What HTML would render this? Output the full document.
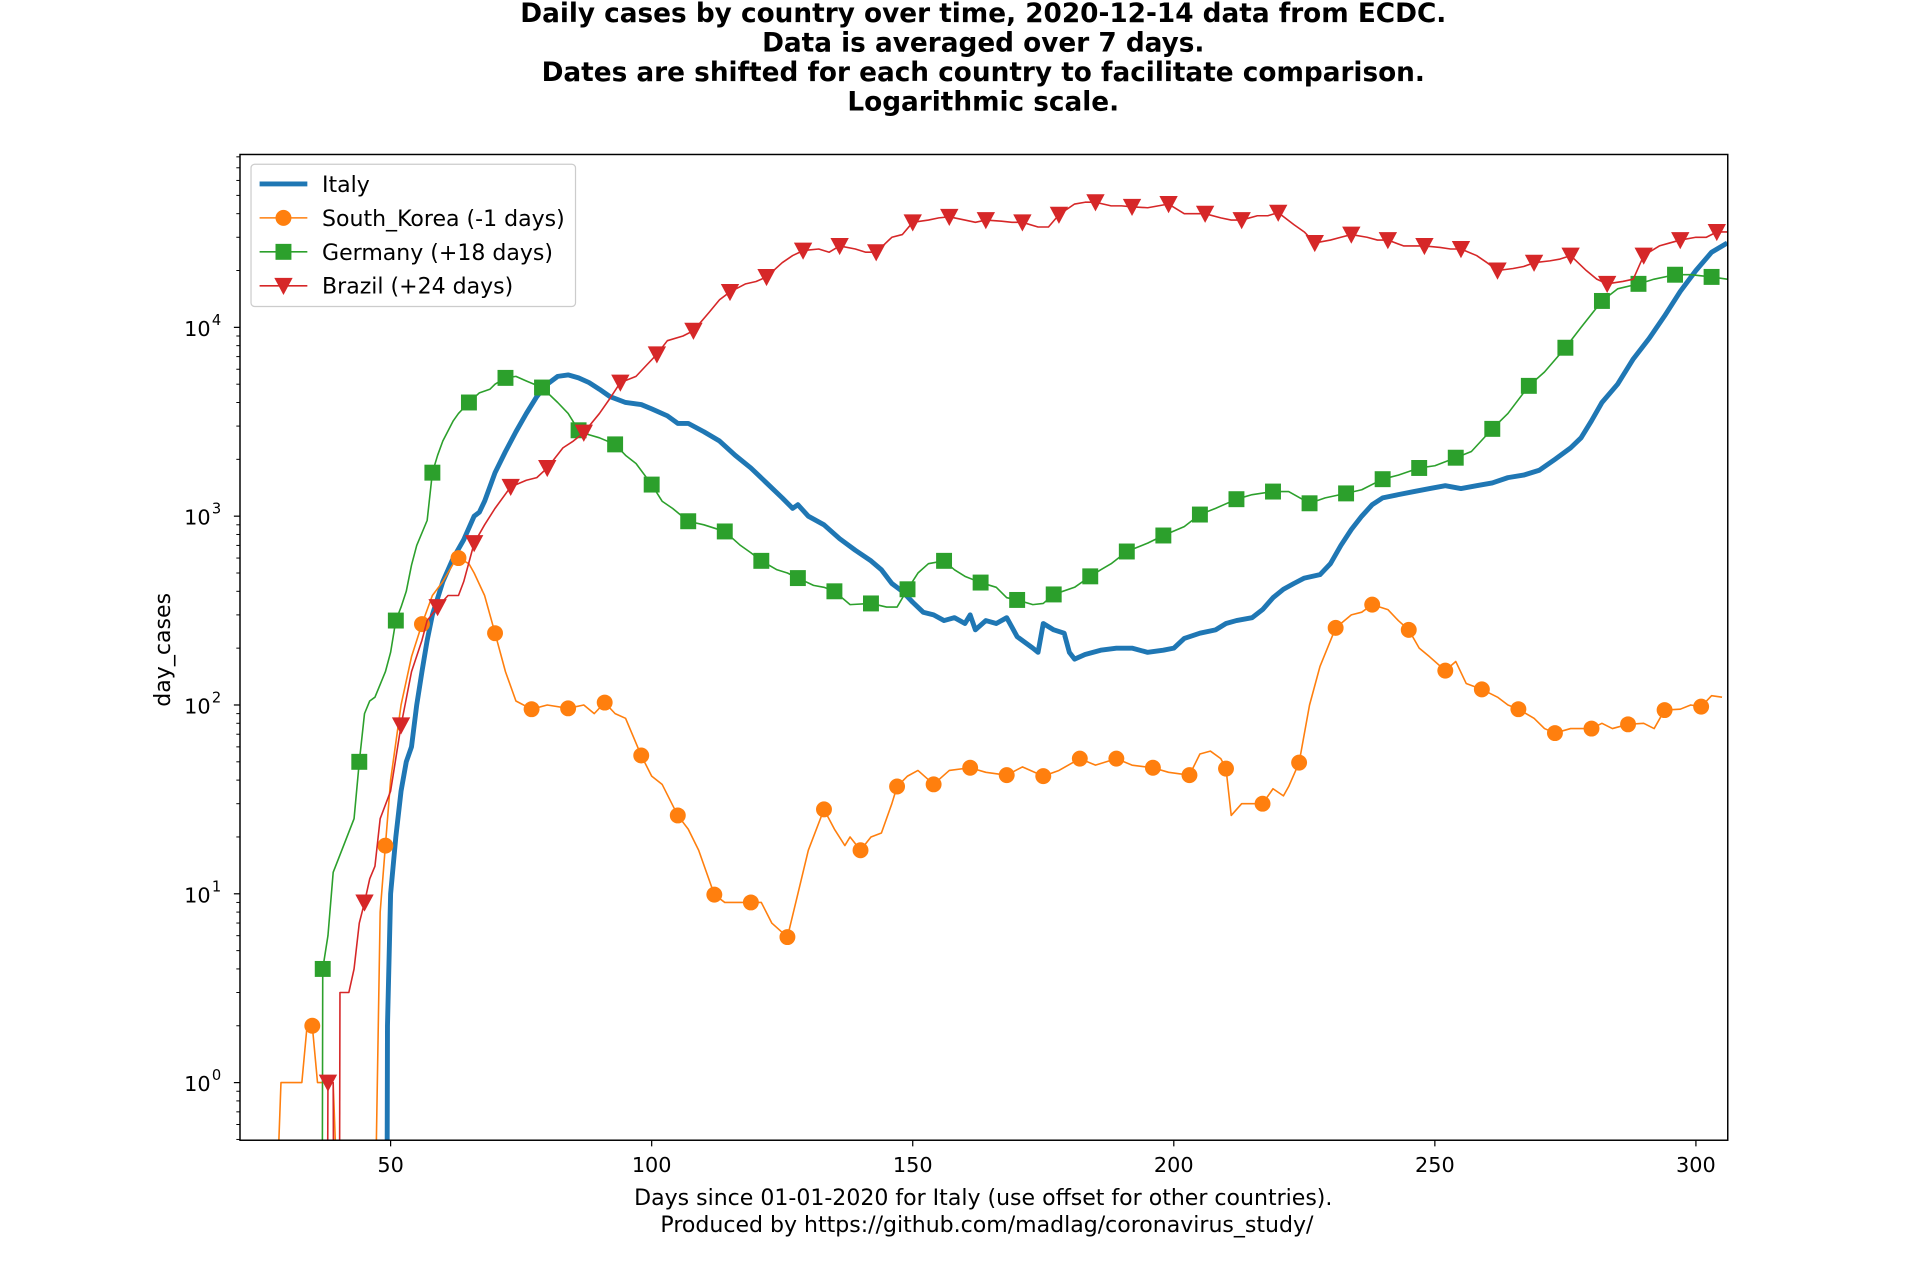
<!DOCTYPE html>
<html><head><meta charset="utf-8"><style>
html,body{margin:0;padding:0;background:#fff;}
svg{display:block;font-family:"DejaVu Sans","Liberation Sans",sans-serif;}
</style></head><body>
<svg id="chart" width="1920" height="1280" viewBox="0 0 1568 1044" preserveAspectRatio="none" xmlns="http://www.w3.org/2000/svg">
<rect width="1568" height="1044" fill="#fff"/>
<g font-weight="bold" font-size="21.5" text-anchor="middle" fill="#000">
<text x="803" y="18">Daily cases by country over time, 2020-12-14 data from ECDC.</text>
<text x="803" y="42">Data is averaged over 7 days.</text>
<text x="803" y="66">Dates are shifted for each country to facilitate comparison.</text>
<text x="803" y="90">Logarithmic scale.</text>
</g>
<defs><clipPath id="plotclip"><rect x="196" y="126" width="1215" height="804"/></clipPath></defs>
<g id="grid-ticks"></g>
<g id="series" clip-path="url(#plotclip)"></g>
<rect x="196" y="126" width="1215" height="804" fill="none" stroke="#000" stroke-width="1.2"/>
<text x="803" y="983" font-size="18" text-anchor="middle">Days since 01-01-2020 for Italy (use offset for other countries).</text>
<text x="806" y="1005" font-size="18" text-anchor="middle">Produced by https://github.com/madlag/coronavirus_study/</text>
<text transform="translate(139,530) rotate(-90)" font-size="18" text-anchor="middle">day_cases</text>
<g id="legend"></g>
</svg>
<script>
const xTicks = [50, 100, 150, 200, 250, 300];
const yTickExps = [0, 1, 2, 3, 4];
const italyDays = [49.3,49.4,50,51,52,53,54,55,56,57,58,60,62,64,66,67,68,70,72,74,76,78,80,82,84,86,88,90,92,95,98,100,103,105,107,110,113,116,119,122,125,127,128,130,133,136,139,142,144,146,148,150,152,154,156,158,160,161,162,164,166,168,170,173,174,175,177,179,180,181,183,186,189,192,195,198,200,202,205,208,210,212,215,217,219,221,223,225,228,230,232,234,236,238,240,243,246,249,252,255,258,261,264,267,270,273,276,278,280,282,285,288,291,294,297,300,303,306];
const italyVals = [0,2,10,20,35,50,60,100,150,220,300,450,600,750,1000,1050,1200,1700,2200,2800,3500,4300,5000,5500,5600,5400,5100,4700,4300,4000,3900,3700,3400,3100,3100,2800,2500,2100,1800,1500,1250,1100,1150,1000,900,760,660,580,520,440,400,350,310,300,280,290,270,300,250,280,270,290,230,200,190,270,250,240,190,175,185,195,200,200,190,195,200,225,240,250,270,280,290,320,370,410,440,470,490,560,700,850,1000,1150,1250,1300,1350,1400,1450,1400,1450,1500,1600,1650,1750,2000,2300,2600,3200,4000,5000,6800,8700,11500,15500,20000,25000,28000];
const koreaDays = [28,29,33,34,35,36,39,40,47,48,49,50,52,54,56,58,60,62,63,65,66,68,70,72,74,77,80,84,87,89,91,93,95,98,100,102,105,107,109,112,114,119,121,123,126,128,130,133,135,137,138,140,142,144,146,147,149,151,154,157,161,164,168,171,175,178,182,185,189,192,196,199,203,205,207,209,210,211,213,215,217,219,221,222,224,226,228,231,234,236,238,241,243,245,247,249,252,254,256,259,262,264,266,269,271,273,276,278,280,282,284,287,290,292,294,297,299,301,303,305];
const koreaVals = [0,1,1,2,2,1,1,0,0,8,18,40,100,180,268,380,450,560,600,560,500,380,240,150,105,95,100,96,100,90,103,90,85,54,42,38,26,22,17,9.9,9,9,9,7,5.9,10,17,28,22,18,20,17,20,21,30,37,42,45,38,45,46.5,44,42.5,47,42,45,52,48,52,48,46.5,44,42.5,55,57,52,46,26,30,30,30,36,33,37,49.5,100,160,256,300,310,340,320,280,250,200,180,152,170,130,121,110,100,95,85,75,71,75,75,75,80,75,79,80,75,94,95,100,98,112,110];
const germanyDays = [36.9,37,38,39,41,43,44,45,46,47,49,50,51,52,53,54,55,57,58,59,60,62,63,65,67,69,70,72,74,76,79,82,84,86,88,90,93,95,97,100,102,104,107,110,114,117,119,121,124,126,128,131,133,135,138,142,145,147,149,151,153,156,158,160,163,166,168,170,173,175,177,181,184,186,188,191,195,198,202,205,208,212,215,219,222,226,229,233,236,240,243,247,250,254,257,261,264,268,271,275,278,282,285,289,292,296,299,303,306];
const germanyVals = [0,4,6,13,18,25,50,90,105,110,150,190,280,330,400,550,700,950,1700,2100,2500,3200,3500,4000,4500,4700,5000,5400,5500,5200,4800,4000,3500,2850,2700,2600,2400,2100,1900,1470,1200,1100,940,900,830,700,640,580,520,500,470,430,420,400,340,345,330,330,410,500,560,580,520,480,445,420,370,360,340,345,385,420,480,520,560,650,720,790,880,1020,1100,1230,1300,1350,1350,1170,1250,1320,1380,1570,1650,1800,1850,2040,2200,2900,3500,4900,5800,7800,10000,13800,16000,17000,18000,19000,19000,18500,18000];
const brazilDays = [37.9,38,39,39.1,40.2,40.3,42,43,44,45,46,47,48,50,52,54,56,57,59,61,63,64,66,68,70,73,76,78,80,83,85,87,90,92,94,97,99,101,103,106,108,111,113,115,118,120,122,125,127,129,132,134,136,139,141,143,146,148,150,153,155,157,160,162,164,167,169,171,174,176,178,181,183,185,188,190,192,195,197,199,202,204,206,209,211,213,216,218,220,223,225,227,230,232,234,237,239,241,244,246,248,251,253,255,258,260,262,265,267,269,272,274,276,279,281,283,286,288,290,293,295,297,300,302,304,306];
const brazilVals = [0,1,1,0,0,3,3,4,7,9,12,14,25,35,78,150,220,280,330,380,380,450,720,900,1100,1430,1550,1600,1800,2300,2500,2770,3500,4200,5100,5500,6300,7200,8500,9000,9600,12000,14000,15400,17000,17500,18500,22000,24000,25500,26000,25000,27000,26000,25000,25000,30000,31000,36000,37000,38000,38500,37000,36000,37000,36500,36000,36000,34000,34000,39500,45000,46000,46000,44000,44000,43500,43000,44000,45000,40000,40000,40000,38000,37000,37000,39000,39000,40500,35000,32000,28000,29000,30000,31000,30000,29000,29000,27000,27000,27000,26500,26000,26000,24000,22000,20000,20500,21000,22000,22500,23000,24000,20000,18000,17000,17500,18000,24000,27000,28000,29000,30000,30000,32000,32000];

const NS = "http://www.w3.org/2000/svg";
const X0 = 319, XPX = (1385 - 319) / 250;
const Y0 = 883, YDEC = 154;
function xs(d) { return X0 + (d - 50) * XPX; }
function ys(v) { return v <= 0 ? 1000 : Y0 - Math.log10(v) * YDEC; }
function mk(tag, attrs, parent) {
  const e = document.createElementNS(NS, tag);
  for (const k in attrs) e.setAttribute(k, attrs[k]);
  parent.appendChild(e);
  return e;
}
const gt = document.getElementById('grid-ticks');
xTicks.forEach(t => {
  const l = mk('line', {x1: xs(t), x2: xs(t), y1: 930, y2: 935, stroke: '#000', 'stroke-width': 1}, gt);
  
  
  const tx = mk('text', {x: xs(t), y: 956, 'font-size': 17, 'text-anchor': 'middle'}, gt);
  tx.textContent = t;
  
  
});
yTickExps.forEach(e => {
  const y = Y0 - e * YDEC;
  const l = mk('line', {x1: 191, x2: 196, y1: y, y2: y, stroke: '#000', 'stroke-width': 1}, gt);
  
  
  const tx = mk('text', {x: 172, y: y + 7, 'font-size': 17, 'text-anchor': 'end'}, gt);
  tx.textContent = '10';
  
  
  const sp = mk('text', {x: 173, y: y - 2, 'font-size': 12}, gt);
  sp.textContent = e;
  
  
});
for (let e = -1; e <= 4; e++) {
  for (let m = 2; m <= 9; m++) {
    const y = ys(m * Math.pow(10, e));
    if (y < 126 || y > 930) continue;
    const l = mk('line', {x1: 193, x2: 196, y1: y, y2: y, stroke: '#000', 'stroke-width': 0.8}, gt);
    
    
  }
}
const gs = document.getElementById('series');
function marker(type, cx, cy, color, parent) {
  let m;
  if (type === 'circle') m = mk('circle', {cx: cx, cy: cy, r: 6.5, fill: color}, parent);
  else if (type === 'square') m = mk('rect', {x: cx - 6.5, y: cy - 6.5, width: 13, height: 13, fill: color}, parent);
  else m = mk('polygon', {points: `${cx-7.5},${cy-6.5} ${cx+7.5},${cy-6.5} ${cx},${cy+7.5}`, fill: color}, parent);
  return m;
}
function drawSeries(name, days, vals, color, width, mtype, start) {
  const g = mk('g', {}, gs);
  
  
  const d = days.map((dd, i) => (i ? 'L' : 'M') + xs(dd).toFixed(2) + ',' + ys(vals[i]).toFixed(2)).join(' ');
  const p = mk('path', {d: d, fill: 'none', stroke: color, 'stroke-width': width, 'stroke-linejoin': 'round'}, g);
  
  
  if (mtype) {
    days.forEach((dd, i) => {
      if (Number.isInteger(dd) && (dd - start) % 7 === 0 && vals[i] > 0) {
        const m = marker(mtype, xs(dd), ys(vals[i]), color, g);
        
        
      }
    });
  }
}
drawSeries('italy', italyDays, italyVals, '#1f77b4', 4, null, 0);
drawSeries('south-korea', koreaDays, koreaVals, '#ff7f0e', 1.3, 'circle', 35);
drawSeries('germany', germanyDays, germanyVals, '#2ca02c', 1.3, 'square', 37);
drawSeries('brazil', brazilDays, brazilVals, '#d62728', 1.3, 'triangle', 38);

const lg = document.getElementById('legend');
mk('rect', {x: 205, y: 134, width: 265, height: 116, rx: 3, fill: '#fff', 'fill-opacity': 0.8, stroke: '#ccc', 'stroke-width': 1}, lg);
const entries = [['Italy', '#1f77b4', 4, null], ['South_Korea (-1 days)', '#ff7f0e', 1.3, 'circle'], ['Germany (+18 days)', '#2ca02c', 1.3, 'square'], ['Brazil (+24 days)', '#d62728', 1.3, 'triangle']];
entries.forEach((en, i) => {
  const y = 150 + i * 27.7;
  const g = mk('g', {}, lg);
  
  
  mk('line', {x1: 212, x2: 251, y1: y, y2: y, stroke: en[1], 'stroke-width': en[2]}, g);
  if (en[3]) marker(en[3], 231.5, y, en[1], g);
  const t = mk('text', {x: 263, y: y + 6.5, 'font-size': 18}, g);
  t.textContent = en[0];
});
</script>
</body></html>
